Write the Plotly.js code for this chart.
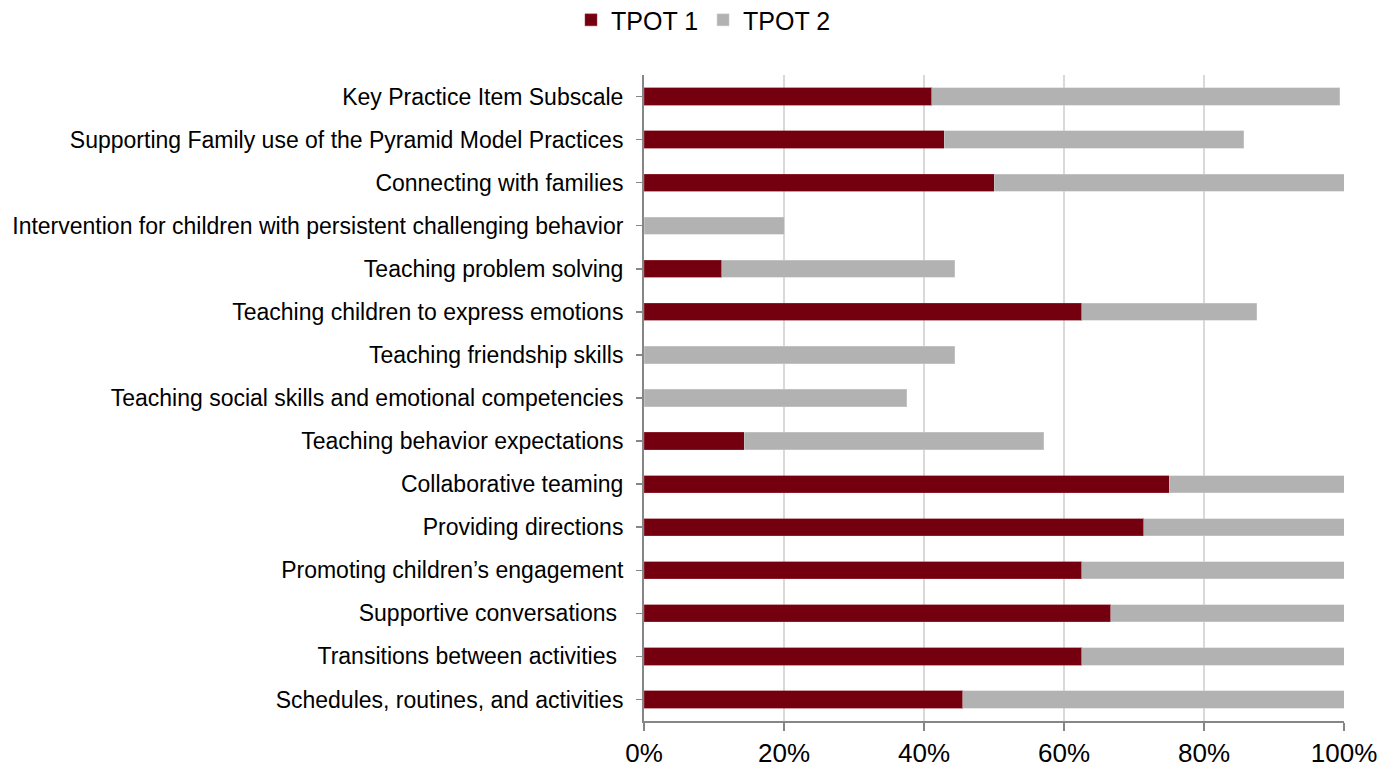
<!DOCTYPE html>
<html>
<head>
<meta charset="utf-8">
<script src="https://cdn.plot.ly/plotly-3.0.1.min.js"></script>
<style>
  body { margin: 0; background: #fff; }
  #chart { width: 1394px; height: 772px; }
</style>
</head>
<body>
<div id="chart"></div>
<script>
// categories top to bottom, values in percent
var categories = [
    "Key Practice Item Subscale",
    "Supporting Family use of the Pyramid Model Practices",
    "Connecting with families",
    "Intervention for children with persistent challenging behavior",
    "Teaching problem solving",
    "Teaching children to express emotions",
    "Teaching friendship skills",
    "Teaching social skills and emotional competencies",
    "Teaching behavior expectations",
    "Collaborative teaming",
    "Providing directions",
    "Promoting children\u2019s engagement",
    "Supportive conversations\u00a0",
    "Transitions between activities\u00a0",
    "Schedules, routines, and activities"
];
var tpot1 = [41.1, 42.9, 50.0, 0, 11.1, 62.5, 0, 0, 14.3, 75.0, 71.4, 62.5, 66.7, 62.5, 45.5];
var tpot2 = [58.3, 42.8, 50.0, 20.0, 33.3, 25.0, 44.4, 37.5, 42.8, 25.0, 28.6, 37.5, 33.3, 37.5, 54.5];
var tickVals = [0, 20, 40, 60, 80, 100];
var tickText = ["0%", "20%", "40%", "60%", "80%", "100%"];

var font = "Liberation Sans, Arial, sans-serif";

var trace1 = {
    name: "TPOT 1",
    type: "bar",
    orientation: "h",
    y: categories,
    x: tpot1,
    marker: {color: "#74000f", line: {color: "#9a3a44", width: 0.5}},
    hoverinfo: "x+y"
};
var trace2 = {
    name: "TPOT 2",
    type: "bar",
    orientation: "h",
    y: categories,
    x: tpot2,
    marker: {color: "#b2b2b2", line: {color: "#d0d0d0", width: 0.5}},
    hoverinfo: "x+y"
};

var layout = {
    barmode: "stack",
    bargap: 0.6,
    width: 1394,
    height: 772,
    margin: {l: 644, r: 50, t: 75, b: 51, autoexpand: false},
    paper_bgcolor: "#fff",
    plot_bgcolor: "#fff",
    font: {family: font, color: "#000", size: 20},
    showlegend: true,
    legend: {
        orientation: "h",
        x: 0.085, xanchor: "center",
        y: 1.085, yanchor: "middle",
        font: {size: 25},
        itemwidth: 30,
        traceorder: "normal"
    },
    xaxis: {
        range: [0, 100],
        tickvals: tickVals,
        ticktext: tickText,
        tickfont: {size: 26},
        showgrid: true,
        gridcolor: "#d9d9d9",
        gridwidth: 2,
        zeroline: false,
        showline: true,
        linecolor: "#868686",
        linewidth: 2,
        ticks: "outside",
        ticklen: 8,
        tickcolor: "#868686",
        tickwidth: 1.5,
        fixedrange: true
    },
    yaxis: {
        autorange: "reversed",
        automargin: false,
        tickfont: {size: 23},
        ticklabelstandoff: 8,
        showline: true,
        linecolor: "#868686",
        linewidth: 2,
        ticks: "outside",
        ticklen: 6,
        tickcolor: "#868686",
        tickwidth: 1.5,
        showgrid: false,
        fixedrange: true
    }
};

Plotly.newPlot("chart", [trace1, trace2], layout, {displayModeBar: false, staticPlot: true});
</script>
</body>
</html>
